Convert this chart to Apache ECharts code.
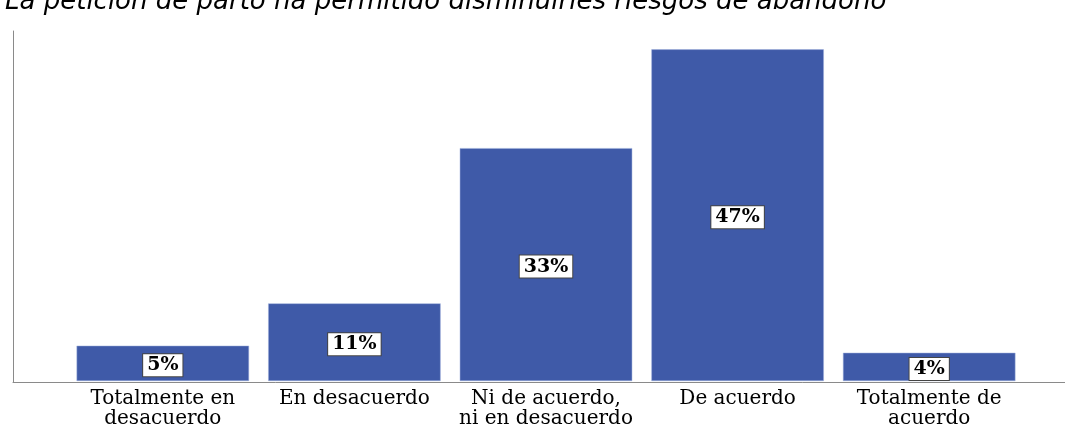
<!DOCTYPE html>
<html>
<head>
<meta charset="utf-8">
<script src="https://cdn.jsdelivr.net/npm/echarts@6/dist/echarts.min.js"></script>
<style>
  html, body { margin: 0; padding: 0; background: #fff; }
  #chart { width: 1065px; height: 429px; }
</style>
</head>
<body>
<div id="chart"></div>
<script>
const titleText = 'La petición de parto ha permitido disminuirles riesgos de abandono'
const categories = ['Totalmente en\ndesacuerdo', 'En desacuerdo', 'Ni de acuerdo,\nni en desacuerdo', 'De acuerdo', 'Totalmente de\nacuerdo']
const percents = [5, 11, 33, 47, 4]

const barColor = '#3f5aa8'
const axisColor = '#8a8a8a'
const yMax = 49.6

const chart = echarts.init(document.getElementById('chart'))

const hidden = { show: false }

chart.setOption({
  animation: false,
  title: {
    text: titleText,
    left: 0,
    top: -16,
    textStyle: { fontFamily: 'DejaVu Sans', fontStyle: 'italic', fontWeight: 'normal', fontSize: 26, color: '#000' }
  },
  grid: [
    // frame with the axis lines
    { left: 13, right: 0, top: 31, bottom: 47 },
    // bars
    { left: 67, right: 40, top: 31, bottom: 47 }
  ],
  xAxis: [
    { gridIndex: 0, type: 'value', min: 0, max: 1, axisLine: { show: true, onZero: false, lineStyle: { color: axisColor, width: 1 } }, axisTick: hidden, axisLabel: hidden, splitLine: hidden },
    {
      gridIndex: 1, type: 'category', data: categories,
      axisLine: hidden, axisTick: hidden,
      axisLabel: { color: '#000', fontFamily: 'DejaVu Serif', fontSize: 20, lineHeight: 20, margin: 8, interval: 0 }
    }
  ],
  yAxis: [
    { gridIndex: 0, type: 'value', min: 0, max: yMax, axisLine: { show: true, lineStyle: { color: axisColor, width: 1 } }, axisTick: hidden, axisLabel: hidden, splitLine: hidden },
    { gridIndex: 1, type: 'value', min: 0, max: yMax, show: false, splitLine: hidden }
  ],
  series: [{
    type: 'bar',
    xAxisIndex: 1,
    yAxisIndex: 1,
    data: percents,
    barCategoryGap: '10%',
    itemStyle: { color: barColor, borderColor: '#9fb0dc', borderWidth: 0.5 },
    label: {
      show: true,
      position: 'inside',
      offset: [0, 2],
      formatter: p => p.value + '%',
      fontFamily: 'DejaVu Serif',
      fontWeight: 'bold',
      fontSize: 19,
      color: '#000',
      backgroundColor: '#fff',
      borderColor: '#444',
      borderWidth: 1,
      padding: [2, 4, 1, 4]
    }
  }]
})
</script>
</body>
</html>
